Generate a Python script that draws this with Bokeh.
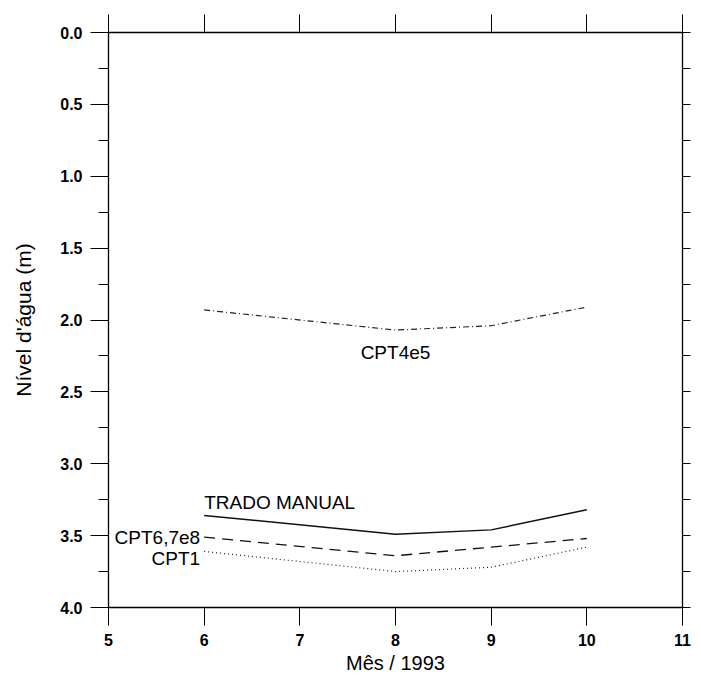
from bokeh.plotting import figure
from bokeh.models import (Range1d, LinearAxis, SingleIntervalTicker, NumeralTickFormatter,
                          Label, CustomJSTickFormatter)
from bokeh.embed import file_html
from bokeh.resources import INLINE

# Data (month of 1993 vs water level depth in m)
months = [6, 8, 9, 10]
trado_manual = [3.36, 3.49, 3.46, 3.32]
cpt678 = [3.51, 3.64, 3.58, 3.52]
cpt1 = [3.61, 3.75, 3.72, 3.58]
cpt45 = [1.93, 2.07, 2.04, 1.91]

FONT = "Liberation Sans"

p = figure(width=701, height=677, output_backend="svg", toolbar_location=None,
           x_range=Range1d(5, 11), y_range=Range1d(4.0, 0.0),
           min_border_left=108, min_border_right=19, min_border_top=32, min_border_bottom=70)
p.outline_line_color = None
p.xgrid.visible = False
p.ygrid.visible = False
p.background_fill_color = "white"
p.border_fill_color = "white"

# series
p.line(months, trado_manual, line_color="#111111", line_width=1.5)
p.line(months, cpt678, line_color="#111111", line_width=1.3, line_dash="11 7")
p.line(months, cpt1, line_color="#222222", line_width=1.2, line_dash="1 3")
p.line(months, cpt45, line_color="#222222", line_width=1.2, line_dash="6 3 1 3")

# axes
xa = p.xaxis[0]
xa.ticker = SingleIntervalTicker(interval=1, num_minor_ticks=0)
xa.axis_label = "Mês / 1993"
ya = p.yaxis[0]
ya.ticker = SingleIntervalTicker(interval=0.5, num_minor_ticks=2)
ya.formatter = NumeralTickFormatter(format="0.0")
ya.axis_label = "Nível d'água (m)"

blank = CustomJSTickFormatter(code="return '';")
top = LinearAxis(ticker=SingleIntervalTicker(interval=1, num_minor_ticks=0), formatter=blank)
right = LinearAxis(ticker=SingleIntervalTicker(interval=0.25, num_minor_ticks=0), formatter=blank)
p.add_layout(top, "above")
p.add_layout(right, "right")

for ax in (xa, ya, top, right):
    ax.axis_line_color = "black"
    ax.axis_line_width = 1.3
    ax.major_tick_line_color = "black"
    ax.minor_tick_line_color = "black"
    ax.major_tick_in = 0
    ax.minor_tick_in = 0
    ax.major_label_text_font = FONT
    ax.major_label_text_font_style = "bold"
    ax.major_label_text_font_size = "16px"
    ax.major_label_text_color = "black"
    ax.axis_label_text_font = FONT
    ax.axis_label_text_font_style = "normal"
    ax.axis_label_text_font_size = "20px"
    ax.axis_label_text_color = "black"

xa.major_tick_out = 18
xa.major_label_standoff = 8
xa.axis_label_standoff = 3
ya.major_tick_out = 18
ya.minor_tick_out = 10
ya.major_label_standoff = 8
ya.axis_label_standoff = 22
ya.axis_label_text_font_size = "21px"
top.major_tick_out = 18
top.major_label_standoff = 0
right.major_tick_out = 8
right.major_label_standoff = 0

def lab(x, y, text, **kw):
    p.add_layout(Label(x=x, y=y, text=text, text_font=FONT, text_font_size="19px",
                       text_color="black", **kw))

lab(months[0], trado_manual[0], "TRADO MANUAL", text_align="left", text_baseline="bottom", y_offset=3)
lab(months[0], cpt678[0], "CPT6,7e8", text_align="right", text_baseline="middle", x_offset=-4)
lab(months[0], cpt1[0], "CPT1", text_align="right", text_baseline="middle", x_offset=-4, y_offset=-7)
lab(months[1], cpt45[1], "CPT4e5", text_align="center", text_baseline="top", y_offset=-12)

open("out.html", "w").write(file_html(p, INLINE))
